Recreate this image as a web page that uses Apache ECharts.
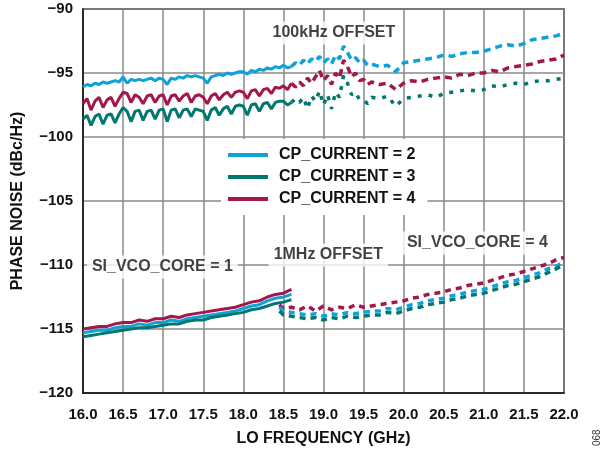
<!DOCTYPE html>
<html>
<head>
<meta charset="utf-8">
<script src="https://cdn.jsdelivr.net/npm/echarts@6/dist/echarts.min.js"></script>
<style>
html,body{margin:0;padding:0;background:#fff;}
#chart{width:604px;height:452px;}
</style>
</head>
<body>
<div id="chart"></div>
<script>
// ---- Data ----
const xTicksMin = 16.0, xTicksMax = 22.0, xTickStep = 0.5;
const yTicksMin = -120, yTicksMax = -90, yTickStep = 5;

const seriesNames = ['CP_CURRENT = 2', 'CP_CURRENT = 3', 'CP_CURRENT = 4'];

// 100 kHz offset, SI_VCO_CORE = 1 (solid)
const x100kCore1 = [16.00,16.05,16.10,16.15,16.20,16.25,16.30,16.35,16.40,16.45,16.50,16.55,16.60,16.65,16.70,16.75,16.80,16.85,16.90,16.95,17.00,17.05,17.10,17.15,17.20,17.25,17.30,17.35,17.40,17.45,17.50,17.55,17.60,17.65,17.70,17.75,17.80,17.85,17.90,17.95,18.00,18.05,18.10,18.15,18.20,18.25,18.30,18.35,18.40,18.45,18.50,18.55,18.60];
const cp2_100k_core1 = [-96.1,-95.9,-96.0,-95.8,-95.9,-95.7,-95.8,-95.7,-95.6,-95.7,-95.3,-95.8,-95.5,-95.6,-95.5,-95.6,-95.5,-95.4,-95.6,-95.4,-95.5,-95.9,-95.4,-95.5,-95.3,-95.4,-95.2,-95.3,-95.2,-95.3,-95.4,-95.8,-95.3,-95.2,-95.1,-95.2,-95.0,-95.1,-95.0,-94.9,-94.9,-95.1,-94.8,-94.9,-94.7,-94.8,-94.6,-94.7,-94.5,-94.6,-94.4,-94.6,-94.5];
const cp3_100k_core1 = [-98.6,-98.3,-99.1,-98.4,-98.2,-99.0,-98.3,-98.2,-98.9,-98.2,-97.7,-98.0,-98.8,-98.0,-97.9,-98.7,-98.0,-97.9,-98.6,-97.9,-97.8,-98.8,-97.9,-97.8,-98.5,-97.9,-97.8,-98.4,-97.8,-97.9,-98.0,-98.7,-97.9,-97.7,-98.3,-97.8,-97.6,-98.2,-97.6,-97.5,-97.6,-98.3,-97.5,-97.4,-98.0,-97.4,-97.3,-97.8,-97.3,-97.2,-97.2,-97.5,-97.3];
const cp4_100k_core1 = [-97.4,-97.0,-97.9,-97.2,-96.9,-97.7,-97.1,-96.9,-97.6,-97.0,-96.5,-96.6,-97.3,-96.7,-96.9,-97.4,-96.8,-96.7,-97.3,-96.8,-96.7,-97.5,-96.8,-96.7,-97.2,-96.8,-96.6,-97.3,-96.8,-96.7,-96.9,-97.4,-96.8,-96.6,-97.1,-96.7,-96.5,-96.9,-96.5,-96.4,-96.5,-97.0,-96.4,-96.3,-96.8,-96.3,-96.2,-96.6,-96.1,-96.2,-96.0,-96.3,-95.8];

// 100 kHz offset, SI_VCO_CORE = 4 (dashed)
const x100kCore4 = [18.60,18.65,18.70,18.75,18.80,18.85,18.90,18.95,19.00,19.05,19.10,19.15,19.20,19.25,19.30,19.35,19.40,19.45,19.50,19.55,19.60,19.70,19.80,19.90,20.00,20.10,20.20,20.30,20.40,20.50,20.60,20.70,20.80,20.90,21.00,21.10,21.20,21.30,21.40,21.50,21.60,21.70,21.80,21.90,22.00];
const cp2_100k_core4 = [-94.5,-94.2,-94.4,-94.0,-94.3,-93.9,-94.1,-93.7,-94.2,-93.9,-94.3,-93.6,-93.9,-92.9,-93.4,-94.0,-93.8,-94.2,-94.0,-94.4,-94.3,-94.5,-94.4,-94.9,-94.2,-94.1,-94.0,-93.9,-93.8,-93.6,-93.7,-93.5,-93.4,-93.4,-93.3,-93.1,-92.9,-92.8,-92.9,-92.7,-92.4,-92.3,-92.2,-92.1,-91.9];
const cp3_100k_core4 = [-97.3,-97.0,-97.3,-96.9,-97.8,-96.8,-97.2,-96.4,-97.5,-96.7,-97.8,-96.5,-96.9,-95.2,-95.8,-96.7,-96.5,-97.1,-97.1,-97.4,-96.9,-97.0,-96.8,-97.6,-97.0,-96.9,-96.8,-96.7,-96.9,-96.6,-96.5,-96.4,-96.3,-96.4,-96.3,-96.0,-96.1,-95.9,-95.8,-95.9,-95.7,-95.6,-95.6,-95.5,-95.4];
const cp4_100k_core4 = [-95.8,-96.1,-95.7,-96.0,-95.4,-95.8,-95.3,-94.8,-95.6,-95.2,-95.9,-95.0,-95.4,-94.0,-94.5,-95.3,-95.0,-95.6,-95.5,-95.9,-95.7,-95.9,-95.8,-96.3,-95.8,-95.6,-95.7,-95.5,-95.4,-95.3,-95.4,-95.1,-95.2,-95.0,-95.0,-94.8,-94.9,-94.6,-94.5,-94.4,-94.3,-94.1,-94.0,-93.9,-93.6];

// 1 MHz offset, SI_VCO_CORE = 1 (solid)
const x1MCore1 = [16.0,16.1,16.2,16.3,16.4,16.5,16.6,16.7,16.8,16.9,17.0,17.1,17.2,17.3,17.4,17.5,17.6,17.7,17.8,17.9,18.0,18.1,18.2,18.3,18.4,18.5,18.6];
const cp2_1M_core1 = [-115.3,-115.2,-115.1,-115.1,-114.9,-114.8,-114.8,-114.6,-114.7,-114.5,-114.5,-114.3,-114.4,-114.2,-114.1,-114.0,-113.9,-113.8,-113.7,-113.6,-113.4,-113.2,-113.1,-112.8,-112.6,-112.5,-112.3];
const cp3_1M_core1 = [-115.6,-115.5,-115.4,-115.3,-115.2,-115.1,-115.0,-114.9,-114.9,-114.8,-114.7,-114.6,-114.6,-114.4,-114.3,-114.3,-114.1,-114.0,-113.9,-113.8,-113.7,-113.5,-113.4,-113.2,-113.0,-112.9,-112.7];
const cp4_1M_core1 = [-115.0,-114.9,-114.8,-114.8,-114.6,-114.5,-114.5,-114.3,-114.4,-114.2,-114.2,-114.0,-114.1,-113.9,-113.8,-113.7,-113.6,-113.5,-113.4,-113.3,-113.1,-112.9,-112.8,-112.5,-112.3,-112.2,-111.9];

// 1 MHz offset, SI_VCO_CORE = 4 (dashed)
const x1MCore4 = [18.45,18.5,18.6,18.7,18.8,18.9,19.0,19.1,19.2,19.3,19.4,19.5,19.6,19.7,19.8,19.9,20.0,20.1,20.2,20.3,20.4,20.5,20.6,20.7,20.8,20.9,21.0,21.1,21.2,21.3,21.4,21.5,21.6,21.7,21.8,21.9,22.0];
const cp2_1M_core4 = [-113.3,-113.6,-113.7,-113.8,-113.9,-113.8,-114.0,-113.8,-113.9,-113.7,-113.8,-113.7,-113.6,-113.6,-113.4,-113.5,-113.3,-113.1,-113.0,-112.8,-112.7,-112.6,-112.4,-112.3,-112.1,-112.0,-111.9,-111.7,-111.5,-111.3,-111.2,-111.0,-110.8,-110.6,-110.3,-110.1,-109.8];
const cp3_1M_core4 = [-113.6,-113.9,-114.0,-114.1,-114.2,-114.1,-114.3,-114.1,-114.2,-114.0,-114.1,-114.0,-113.9,-113.9,-113.7,-113.8,-113.6,-113.4,-113.3,-113.1,-113.0,-112.9,-112.7,-112.6,-112.4,-112.3,-112.2,-112.0,-111.8,-111.6,-111.5,-111.3,-111.1,-110.9,-110.6,-110.3,-110.0];
const cp4_1M_core4 = [-113.1,-113.4,-113.3,-113.5,-113.2,-113.6,-113.2,-113.5,-113.3,-113.4,-113.1,-113.3,-113.2,-113.1,-113.0,-112.9,-112.8,-112.6,-112.5,-112.3,-112.2,-112.1,-111.9,-111.8,-111.6,-111.5,-111.4,-111.2,-111.0,-110.8,-110.7,-110.5,-110.3,-110.1,-109.9,-109.6,-109.4];

// Annotations [x, y, text]
const annotations = [
  [19.13, -91.88, '100kHz OFFSET'],
  [16.99, -110.16, 'SI_VCO_CORE = 1'],
  [19.06, -109.22, '1MHz OFFSET'],
  [20.92, -108.28, 'SI_VCO_CORE = 4']
];

const xAxisTitle = 'LO FREQUENCY (GHz)';
const yAxisTitle = 'PHASE NOISE (dBc/Hz)';
const figureId = '068';

// ---- Styling ----
const colors = { 'CP_CURRENT = 2': '#0ea2d9', 'CP_CURRENT = 3': '#00776f', 'CP_CURRENT = 4': '#a3174a' };
const FONT = 'Liberation Sans, Arial, sans-serif';

function zip(xs, ys){ return xs.map((x,i)=>[x, ys[i]]); }

function lineSeries(name, xs, ys, dashed, dashArr){
  return {
    name: name,
    type: 'line',
    data: zip(xs, ys),
    showSymbol: false,
    symbol: 'none',
    smooth: false,
    animation: false,
    lineStyle: { color: colors[name], width: dashed ? 3.5 : 3, type: dashed ? dashArr : 'solid' },
    itemStyle: { color: colors[name] },
    z: 3
  };
}

const series = [
  lineSeries('CP_CURRENT = 2', x100kCore1, cp2_100k_core1, false),
  lineSeries('CP_CURRENT = 3', x100kCore1, cp3_100k_core1, false),
  lineSeries('CP_CURRENT = 4', x100kCore1, cp4_100k_core1, false),
  lineSeries('CP_CURRENT = 2', x100kCore4, cp2_100k_core4, true, [7,5]),
  lineSeries('CP_CURRENT = 3', x100kCore4, cp3_100k_core4, true, [4,7]),
  lineSeries('CP_CURRENT = 4', x100kCore4, cp4_100k_core4, true, [7,5]),
  lineSeries('CP_CURRENT = 4', x1MCore1, cp4_1M_core1, false),
  lineSeries('CP_CURRENT = 2', x1MCore1, cp2_1M_core1, false),
  lineSeries('CP_CURRENT = 3', x1MCore1, cp3_1M_core1, false),
  lineSeries('CP_CURRENT = 4', x1MCore4, cp4_1M_core4, true, [6,5]),
  lineSeries('CP_CURRENT = 2', x1MCore4, cp2_1M_core4, true, [6,5]),
  lineSeries('CP_CURRENT = 3', x1MCore4, cp3_1M_core4, true, [6,5]),
  {
    type: 'scatter',
    data: annotations.map(a => ({ value: [a[0], a[1]], label: { formatter: a[2] } })),
    symbolSize: 0,
    animation: false,
    silent: true,
    z: 5,
    label: {
      show: true,
      position: 'inside',
      fontFamily: FONT,
      fontWeight: 'bold',
      fontSize: 16,
      color: '#111',
      backgroundColor: '#fff',
      padding: [4, 5, 3, 5]
    }
  }
];

const chart = echarts.init(document.getElementById('chart'), null, { renderer: 'canvas' });
chart.setOption({
  animation: false,
  backgroundColor: '#fff',
  grid: { left: 83, right: 40, top: 9, bottom: 59, show: true, borderColor: '#111', borderWidth: 1.5, containLabel: false },
  legend: {
    data: seriesNames,
    orient: 'vertical',
    left: 221,
    top: 139,
    icon: 'rect',
    itemWidth: 40,
    itemHeight: 4,
    itemGap: 6,
    padding: [8, 12, 8, 7],
    backgroundColor: '#fff',
    selectedMode: false,
    z: 10,
    textStyle: { fontFamily: FONT, fontWeight: 'bold', fontSize: 16, color: '#111', padding: [0,0,0,6] }
  },
  xAxis: {
    type: 'value',
    min: xTicksMin, max: xTicksMax, interval: xTickStep,
    name: xAxisTitle,
    nameLocation: 'middle',
    nameGap: 38,
    nameTextStyle: { fontFamily: FONT, fontWeight: 'bold', fontSize: 16, color: '#111' },
    axisLine: { show: true, lineStyle: { color: '#111', width: 1.5 } },
    axisTick: { show: false },
    axisLabel: { fontFamily: FONT, fontWeight: 'bold', fontSize: 15, color: '#111', margin: 14, formatter: v => v.toFixed(1) },
    splitLine: { show: true, lineStyle: { color: '#8a8a8a', width: 1.5 } }
  },
  yAxis: {
    type: 'value',
    min: yTicksMin, max: yTicksMax, interval: yTickStep,
    name: yAxisTitle,
    nameLocation: 'middle',
    nameGap: 57,
    nameTextStyle: { fontFamily: FONT, fontWeight: 'bold', fontSize: 16, color: '#111' },
    axisLine: { show: true, lineStyle: { color: '#111', width: 1.5 } },
    axisTick: { show: false },
    axisLabel: { fontFamily: FONT, fontWeight: 'bold', fontSize: 15, color: '#111', margin: 10, formatter: v => (v < 0 ? '\u2212' + Math.abs(v) : String(v)) },
    splitLine: { show: true, lineStyle: { color: '#8a8a8a', width: 1.5 } }
  },
  graphic: [{
    type: 'text',
    right: 2,
    bottom: 6,
    rotation: Math.PI / 2,
    style: { text: figureId, fontFamily: FONT, fontSize: 10, fill: '#333' }
  }],
  series: series
});
</script>
</body>
</html>
